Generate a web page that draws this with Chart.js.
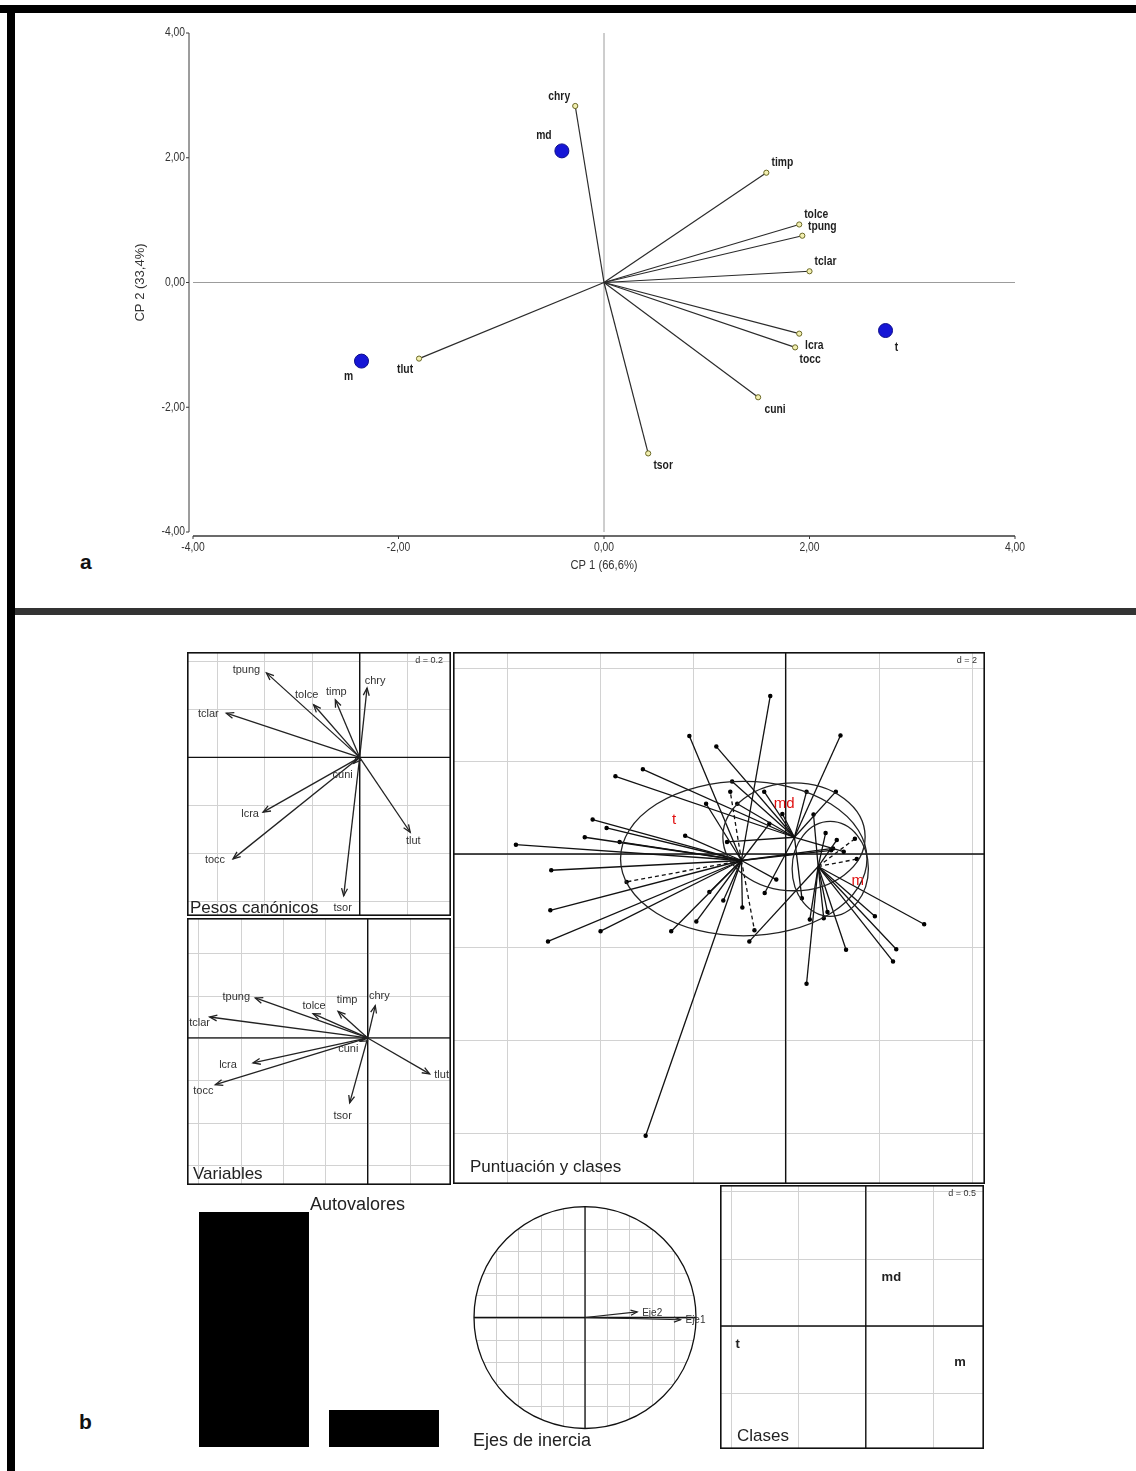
<!DOCTYPE html>
<html>
<head>
<meta charset="utf-8">
<script src="https://cdn.jsdelivr.net/npm/chart.js@4.4.0/dist/chart.umd.min.js"></script>
<style>
  body { margin: 0; background: #fff; }
  #page { position: relative; width: 1136px; height: 1471px; overflow: hidden; background: #fff; font-family: "Liberation Sans", Arial, sans-serif; }
  .panel { position: absolute; }
  .bar { position: absolute; background: #000; }
  .tag { position: absolute; font: bold 21px "Liberation Sans", Arial, sans-serif; color: #111; }
</style>
</head>
<body>
<div id="page">
  <div class="bar" style="left:0;top:5px;width:1136px;height:8px"></div>
  <div class="bar" style="left:7px;top:5px;width:8px;height:1466px"></div>
  <div class="bar" style="left:15px;top:608px;width:1121px;height:7px;background:#333"></div>
  <div class="tag" style="left:80px;top:550px">a</div>
  <div class="tag" style="left:79px;top:1410px">b</div>

  <div class="panel" style="left:0;top:13px;width:1136px;height:595px"><canvas id="cpChart"></canvas></div>
  <div class="panel" style="left:187px;top:652px;width:264px;height:264px"><canvas id="pesosChart"></canvas></div>
  <div class="panel" style="left:187px;top:918px;width:264px;height:267px"><canvas id="varsChart"></canvas></div>
  <div class="panel" style="left:453px;top:652px;width:532px;height:532px"><canvas id="scoreChart"></canvas></div>
  <div class="panel" style="left:189px;top:1195px;width:260px;height:253px"><canvas id="eigChart"></canvas></div>
  <div class="panel" style="left:465px;top:1195px;width:250px;height:270px"><canvas id="ejesChart"></canvas></div>
  <div class="panel" style="left:720px;top:1185px;width:264px;height:264px"><canvas id="clasesChart"></canvas></div>
</div>
<script>
// ---- data (a) biplot
const varNames = ['chry', 'timp', 'tolce', 'tpung', 'tclar', 'lcra', 'tocc', 'cuni', 'tsor', 'tlut'];
const cp1 = [-0.28, 1.58, 1.90, 1.93, 2.00, 1.90, 1.86, 1.50, 0.43, -1.80];
const cp2 = [2.83, 1.76, 0.93, 0.75, 0.18, -0.82, -1.04, -1.84, -2.74, -1.22];
const classNames = ['t', 'md', 'm'];
const classCp1 = [2.74, -0.41, -2.36];
const classCp2 = [-0.77, 2.11, -1.26];
const cpTicks = [-4, -2, 0, 2, 4];

// ---- data (b) discriminant panels
const pesoX = [0.031, -0.102, -0.193, -0.391, -0.559, -0.405, -0.531, -0.025, -0.067, 0.212];
const pesoY = [0.289, 0.240, 0.219, 0.352, 0.184, -0.228, -0.423, -0.025, -0.577, -0.312];
const corX = [0.036, -0.140, -0.258, -0.531, -0.747, -0.542, -0.720, -0.035, -0.085, 0.293];
const corY = [0.153, 0.126, 0.115, 0.189, 0.099, -0.118, -0.221, -0.016, -0.307, -0.170];

const classX = [-0.95, 0.19, 0.70];
const classY = [-0.14, 0.36, -0.27];
const classLabelX = [-2.40, -0.03, 1.55];
const classLabelY = [0.73, 1.08, -0.58];
const ellipseX = [-0.90, 0.18, 0.96];
const ellipseY = [-0.10, 0.37, -0.32];
const ellipseRx = [2.65, 1.53, 0.82];
const ellipseRy = [1.66, 1.16, 1.02];

const scoreX = [-5.80, -5.04, -5.06, -5.11, -3.98, -4.15, -4.32, -3.85, -3.66, -3.07,
  -2.46, -1.92, -2.16, -3.01, -3.42, -2.07, -1.49, -0.33, 1.18, 1.08,
  2.98, 2.38, 2.31, 1.30, 0.45, 1.92, -0.78, -0.67, -1.64, -1.34,
  -0.93, -0.45, 0.82, 0.52, -1.15, -1.19, -1.04, -0.46, -0.07, 0.45,
  0.86, 1.49, 1.53, -1.26, -1.71, -3.57, 1.10, 1.25, 0.35, -0.20,
  0.90, -0.35, 0.60, 1.02, 0.98];
const scoreY = [0.20, -0.35, -1.21, -1.88, -1.66, 0.74, 0.36, 0.56, 1.67, 1.82,
  -1.66, -1.45, 0.39, -6.06, -0.60, 2.54, 2.31, 3.40, 2.55, 1.34,
  -1.51, -2.05, -2.31, -2.06, -2.79, -1.34, -1.88, -1.64, -0.82, -1.00,
  -1.15, -0.84, -1.38, -1.41, 1.56, 1.34, 1.08, 1.34, 0.86, 1.34,
  0.45, 0.33, -0.11, 0.26, 1.08, 0.26, 0.30, 0.05, -0.95, -0.55,
  -1.25, 0.65, 0.85, 0.12, 0.08];
const scoreClass = ['t', 't', 't', 't', 't', 't', 't', 't', 'md', 'md',
  't', 't', 't', 't', 't', 't', 'md', 't', 'md', 'md',
  'm', 'm', 'm', 'm', 'm', 'm', 'm', 't', 't', 't',
  't', 'md', 'm', 'm', 'md', 't', 'md', 'md', 'md', 'md',
  'm', 'm', 'm', 'md', 't', 't', 'm', 'md', 'md', 't',
  'm', 't', 'm', 't', 't'];
const dashedScores = [14, 27, 35, 41, 42];

const autovalores = [0.91, 0.143];
const ejeNames = ['Eje1', 'Eje2'];
const ejeX = [0.86, 0.47];
const ejeY = [-0.02, 0.05];

// ---- label nudges (px), style only
const cpLabelOff = [[-16, -9], [16, -10], [17, -10], [20, -9], [16, -10], [15, 12], [15, 12], [17, 12], [15, 12], [-14, 11]];
const cpClassOff = [[11, 17], [-18, -15], [-13, 16]];
const pesoLabelOff = [[8, -7], [1, -8], [-7, -10], [-20, -3], [-18, 1], [-13, 2], [-18, 1], [-11, 12], [-1, 12], [3, 9]];
const corLabelOff = [[4, -10], [9, -11], [1, -8], [-19, -1], [-10, 6], [-25, 2], [-12, 6], [-12, 8], [-7, 13], [12, 1]];

const NARROW = '"Liberation Sans Narrow", "Liberation Sans", Arial, sans-serif';
const SANS = '"Liberation Sans", Arial, sans-serif';

const fmt = (v) => v.toFixed(2).replace('.', ',');

function seg(ctx, x0, y0, x1, y1) {
  ctx.beginPath();
  ctx.moveTo(x0, y0);
  ctx.lineTo(x1, y1);
  ctx.stroke();
}

function arrowHead(ctx, x0, y0, x1, y1, len) {
  const a = Math.atan2(y1 - y0, x1 - x0);
  ctx.beginPath();
  ctx.moveTo(x1 - len * Math.cos(a - 0.38), y1 - len * Math.sin(a - 0.38));
  ctx.lineTo(x1, y1);
  ctx.lineTo(x1 - len * Math.cos(a + 0.38), y1 - len * Math.sin(a + 0.38));
  ctx.stroke();
}

// narrow-looking text: squeeze horizontally around the anchor
function narrowText(ctx, txt, x, y) {
  ctx.save();
  ctx.translate(x, y);
  ctx.scale(0.86, 1);
  ctx.fillText(txt, 0, 0);
  ctx.restore();
}

function baseOptions(xMin, xMax, yMin, yMax, padding) {
  return {
    responsive: true,
    maintainAspectRatio: false,
    animation: false,
    events: [],
    layout: { padding: padding || 0, autoPadding: false },
    plugins: { legend: { display: false }, tooltip: { enabled: false } },
    scales: {
      x: { type: 'linear', min: xMin, max: xMax, display: false },
      y: { type: 'linear', min: yMin, max: yMax, display: false }
    }
  };
}

// ================= (a) CP biplot =================
const cpDatasets = varNames.map((n, i) => ({
  data: [{ x: 0, y: 0 }, { x: cp1[i], y: cp2[i] }],
  showLine: true,
  borderColor: '#2b2b2b',
  borderWidth: 1.2,
  pointRadius: [0, 2.6],
  pointBackgroundColor: '#f2efb0',
  pointBorderColor: '#6a6826',
  pointBorderWidth: 1,
  clip: false
}));
cpDatasets.push({
  data: classNames.map((n, i) => ({ x: classCp1[i], y: classCp2[i] })),
  pointRadius: 7,
  pointBackgroundColor: '#1616d6',
  pointBorderColor: '#0c0c8a',
  pointBorderWidth: 1,
  clip: false
});

const cpPlugin = {
  id: 'cpPlugin',
  beforeDatasetsDraw(chart) {
    const { ctx, scales: { x, y } } = chart;
    ctx.save();
    ctx.strokeStyle = '#9c9c9c';
    ctx.lineWidth = 1;
    const x0 = x.getPixelForValue(0), y0 = y.getPixelForValue(0);
    seg(ctx, x0, y.top, x0, y.bottom);
    seg(ctx, x.left, y0, x.right, y0);

    ctx.strokeStyle = '#3a3a3a';
    ctx.fillStyle = '#333';
    ctx.font = '12px ' + NARROW;
    const ax = x.left - 4;
    seg(ctx, ax, y.top, ax, y.bottom);
    ctx.textAlign = 'right';
    ctx.textBaseline = 'middle';
    cpTicks.forEach(v => {
      const py = y.getPixelForValue(v);
      seg(ctx, ax - 3, py, ax, py);
      narrowText(ctx, fmt(v), ax - 4, py);
    });
    const ay = y.bottom + 4;
    ctx.lineWidth = 1.4;
    seg(ctx, x.left, ay, x.right, ay);
    ctx.lineWidth = 1;
    ctx.textAlign = 'center';
    ctx.textBaseline = 'top';
    cpTicks.forEach(v => {
      const px = x.getPixelForValue(v);
      seg(ctx, px, ay, px, ay + 3);
      narrowText(ctx, fmt(v), px, ay + 6);
    });
    ctx.font = '13px ' + NARROW;
    narrowText(ctx, 'CP 1 (66,6%)', x0, ay + 23);
    ctx.save();
    ctx.translate(140, y0);
    ctx.rotate(-Math.PI / 2);
    ctx.font = '13px ' + SANS;
    ctx.textBaseline = 'middle';
    ctx.fillText('CP 2 (33,4%)', 0, 0);
    ctx.restore();
    ctx.restore();
  },
  afterDatasetsDraw(chart) {
    const { ctx, scales: { x, y } } = chart;
    ctx.save();
    ctx.fillStyle = '#1e1e1e';
    ctx.font = 'bold 12px ' + NARROW;
    ctx.textAlign = 'center';
    ctx.textBaseline = 'middle';
    varNames.forEach((n, i) => {
      narrowText(ctx, n, x.getPixelForValue(cp1[i]) + cpLabelOff[i][0], y.getPixelForValue(cp2[i]) + cpLabelOff[i][1]);
    });
    classNames.forEach((n, i) => {
      narrowText(ctx, n, x.getPixelForValue(classCp1[i]) + cpClassOff[i][0], y.getPixelForValue(classCp2[i]) + cpClassOff[i][1]);
    });
    ctx.restore();
  }
};

new Chart(document.getElementById('cpChart'), {
  type: 'scatter',
  data: { datasets: cpDatasets },
  options: baseOptions(-4, 4, -4, 4, { left: 193, right: 121, top: 20, bottom: 76 }),
  plugins: [cpPlugin]
});

// ================= (b) ade4 style panels =================
function panelPlugin(cfg) {
  return {
    id: 'panel_' + cfg.title.replace(/\W/g, ''),
    beforeDatasetsDraw(chart) {
      const { ctx, scales: { x, y }, chartArea: ca } = chart;
      ctx.save();
      ctx.strokeStyle = '#d2d2d2';
      ctx.lineWidth = 1;
      for (let v = Math.ceil(x.min / cfg.step) * cfg.step; v <= x.max; v += cfg.step) {
        const p = Math.round(x.getPixelForValue(v)) + 0.5;
        seg(ctx, p, ca.top, p, ca.bottom);
      }
      for (let v = Math.ceil(y.min / cfg.step) * cfg.step; v <= y.max; v += cfg.step) {
        const p = Math.round(y.getPixelForValue(v)) + 0.5;
        seg(ctx, ca.left, p, ca.right, p);
      }
      ctx.strokeStyle = '#111';
      ctx.lineWidth = 1.3;
      seg(ctx, x.getPixelForValue(0), ca.top, x.getPixelForValue(0), ca.bottom);
      seg(ctx, ca.left, y.getPixelForValue(0), ca.right, y.getPixelForValue(0));
      if (cfg.before) cfg.before(ctx, x, y);
      ctx.restore();
    },
    afterDatasetsDraw(chart) {
      const { ctx, scales: { x, y }, chartArea: ca } = chart;
      ctx.save();
      ctx.strokeStyle = '#222';
      ctx.lineWidth = 1.3;
      chart.data.datasets.forEach((ds, i) => {
        if (!ds.arrow) return;
        const pts = chart.getDatasetMeta(i).data;
        arrowHead(ctx, pts[0].x, pts[0].y, pts[1].x, pts[1].y, 8);
      });
      if (cfg.after) cfg.after(ctx, x, y);
      if (cfg.dText) {
        ctx.font = '9px ' + SANS;
        ctx.fillStyle = '#333';
        ctx.textAlign = 'right';
        ctx.textBaseline = 'middle';
        ctx.fillText(cfg.dText, ca.right - 8, ca.top + 9);
      }
      ctx.font = '17px ' + SANS;
      ctx.fillStyle = '#222';
      ctx.textAlign = 'left';
      ctx.textBaseline = 'alphabetic';
      ctx.fillText(cfg.title, ca.left + cfg.titleX, ca.bottom - cfg.titleB);
      ctx.strokeStyle = '#111';
      ctx.lineWidth = 1.6;
      ctx.strokeRect(ca.left + 0.8, ca.top + 0.8, ca.right - ca.left - 1.6, ca.bottom - ca.top - 1.6);
      ctx.restore();
    }
  };
}

function arrowSets(xs, ys) {
  return xs.map((v, i) => ({
    data: [{ x: 0, y: 0 }, { x: xs[i], y: ys[i] }],
    showLine: true,
    arrow: true,
    borderColor: '#222',
    borderWidth: 1.3,
    pointRadius: 0
  }));
}

function nameLabels(xs, ys, off) {
  return (ctx, x, y) => {
    ctx.font = '11px ' + SANS;
    ctx.fillStyle = '#333';
    ctx.textAlign = 'center';
    ctx.textBaseline = 'middle';
    varNames.forEach((n, i) => {
      ctx.fillText(n, x.getPixelForValue(xs[i]) + off[i][0], y.getPixelForValue(ys[i]) + off[i][1]);
    });
  };
}

new Chart(document.getElementById('pesosChart'), {
  type: 'scatter',
  data: { datasets: arrowSets(pesoX, pesoY) },
  options: baseOptions(-0.724, 0.383, -0.661, 0.439),
  plugins: [panelPlugin({ step: 0.2, dText: 'd = 0.2', title: 'Pesos canónicos', titleX: 3, titleB: 3, after: nameLabels(pesoX, pesoY, pesoLabelOff) })]
});

new Chart(document.getElementById('varsChart'), {
  type: 'scatter',
  data: { datasets: arrowSets(corX, corY) },
  options: baseOptions(-0.854, 0.394, -0.695, 0.567),
  plugins: [panelPlugin({ step: 0.2, title: 'Variables', titleX: 6, titleB: 6, after: nameLabels(corX, corY, corLabelOff) })]
});

// scores: star from each class centroid
const scoreSets = scoreX.map((v, i) => {
  const c = classNames.indexOf(scoreClass[i]);
  return {
    data: [{ x: classX[c], y: classY[c] }, { x: scoreX[i], y: scoreY[i] }],
    showLine: true,
    borderColor: '#111',
    borderWidth: 1.3,
    borderDash: dashedScores.includes(i) ? [4, 3] : [],
    pointRadius: [0, 1.6],
    pointBackgroundColor: '#000',
    pointBorderColor: '#000'
  };
});

new Chart(document.getElementById('scoreChart'), {
  type: 'scatter',
  data: { datasets: scoreSets },
  options: baseOptions(-7.153, 4.288, -7.097, 4.344),
  plugins: [panelPlugin({
    step: 2, dText: 'd = 2', title: 'Puntuación y clases', titleX: 17, titleB: 12,
    after(ctx, x, y) {
      ctx.strokeStyle = '#222';
      ctx.lineWidth = 1.3;
      ellipseX.forEach((v, i) => {
        const cx = x.getPixelForValue(ellipseX[i]);
        const cy = y.getPixelForValue(ellipseY[i]);
        const rx = Math.abs(x.getPixelForValue(ellipseX[i] + ellipseRx[i]) - cx);
        const ry = Math.abs(y.getPixelForValue(ellipseY[i] + ellipseRy[i]) - cy);
        ctx.beginPath();
        ctx.ellipse(cx, cy, rx, ry, 0, 0, Math.PI * 2);
        ctx.stroke();
      });
      ctx.font = '15px ' + SANS;
      ctx.fillStyle = '#e01010';
      ctx.textAlign = 'center';
      ctx.textBaseline = 'middle';
      classNames.forEach((n, i) => {
        ctx.fillText(n, x.getPixelForValue(classLabelX[i]), y.getPixelForValue(classLabelY[i]));
      });
    }
  })]
});

// eigenvalues
const eigPlugin = {
  id: 'eigTitle',
  afterDraw(chart) {
    const { ctx } = chart;
    ctx.save();
    ctx.font = '18px ' + SANS;
    ctx.fillStyle = '#222';
    ctx.textBaseline = 'middle';
    ctx.fillText('Autovalores', 121, 10);
    ctx.restore();
  }
};
new Chart(document.getElementById('eigChart'), {
  type: 'bar',
  data: { labels: ['1', '2'], datasets: [{ data: autovalores, backgroundColor: '#000', barPercentage: 0.846, categoryPercentage: 1 }] },
  options: {
    responsive: true, maintainAspectRatio: false, animation: false, events: [],
    layout: { padding: { top: 17, bottom: 1, left: 0, right: 0 }, autoPadding: false },
    plugins: { legend: { display: false }, tooltip: { enabled: false } },
    scales: { x: { display: false }, y: { display: false, min: 0, max: autovalores[0] } }
  },
  plugins: [eigPlugin]
});

// inertia axes circle
const ejesPlugin = {
  id: 'ejesPlugin',
  beforeDatasetsDraw(chart) {
    const { ctx, scales: { x, y } } = chart;
    const cx = x.getPixelForValue(0), cy = y.getPixelForValue(0);
    const rx = x.getPixelForValue(1) - cx, ry = cy - y.getPixelForValue(1);
    ctx.save();
    ctx.beginPath();
    ctx.ellipse(cx, cy, rx, ry, 0, 0, Math.PI * 2);
    ctx.clip();
    ctx.strokeStyle = '#cfcfcf';
    ctx.lineWidth = 1;
    for (let v = -1; v <= 1.0001; v += 0.2) {
      const px = Math.round(x.getPixelForValue(v)) + 0.5;
      const py = Math.round(y.getPixelForValue(v)) + 0.5;
      seg(ctx, px, cy - ry, px, cy + ry);
      seg(ctx, cx - rx, py, cx + rx, py);
    }
    ctx.restore();
    ctx.save();
    ctx.strokeStyle = '#111';
    ctx.lineWidth = 1.3;
    seg(ctx, cx, cy - ry, cx, cy + ry);
    seg(ctx, cx - rx, cy, cx + rx, cy);
    ctx.beginPath();
    ctx.ellipse(cx, cy, rx, ry, 0, 0, Math.PI * 2);
    ctx.stroke();
    ctx.restore();
  },
  afterDatasetsDraw(chart) {
    const { ctx } = chart;
    ctx.save();
    ctx.strokeStyle = '#222';
    ctx.lineWidth = 1.2;
    ctx.fillStyle = '#333';
    ctx.font = '10px ' + SANS;
    ctx.textBaseline = 'middle';
    chart.data.datasets.forEach((ds, i) => {
      const pts = chart.getDatasetMeta(i).data;
      arrowHead(ctx, pts[0].x, pts[0].y, pts[1].x, pts[1].y, 7);
      ctx.fillText(ejeNames[i], pts[1].x + 5, pts[1].y + 1);
    });
    ctx.font = '18px ' + SANS;
    ctx.fillStyle = '#222';
    ctx.fillText('Ejes de inercia', 8, 246);
    ctx.restore();
  }
};
new Chart(document.getElementById('ejesChart'), {
  type: 'scatter',
  data: { datasets: ejeX.map((v, i) => ({ data: [{ x: 0, y: 0 }, { x: ejeX[i], y: ejeY[i] }], showLine: true, borderColor: '#222', borderWidth: 1.2, pointRadius: 0, clip: false })) },
  options: baseOptions(-1.081, 1.171, -1.329, 1.104),
  plugins: [ejesPlugin]
});

// class scores
new Chart(document.getElementById('clasesChart'), {
  type: 'scatter',
  data: { datasets: [{ data: classNames.map((n, i) => ({ x: classX[i], y: classY[i] })), pointRadius: 0 }] },
  options: baseOptions(-1.082, 0.878, -0.913, 1.047),
  plugins: [panelPlugin({
    step: 0.5, dText: 'd = 0.5', title: 'Clases', titleX: 17, titleB: 8,
    after(ctx, x, y) {
      ctx.font = 'bold 13px ' + SANS;
      ctx.fillStyle = '#222';
      ctx.textAlign = 'center';
      ctx.textBaseline = 'middle';
      classNames.forEach((n, i) => ctx.fillText(n, x.getPixelForValue(classX[i]), y.getPixelForValue(classY[i])));
    }
  })]
});
</script>
</body>
</html>
